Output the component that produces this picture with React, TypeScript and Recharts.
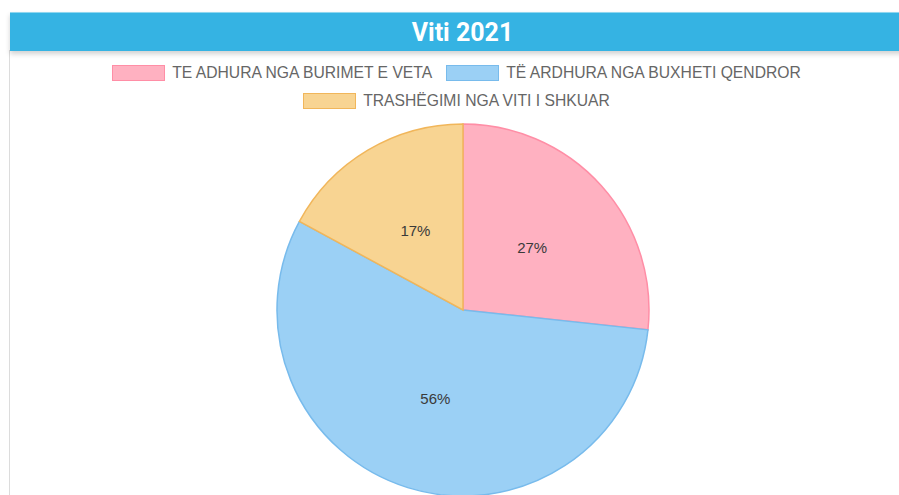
import { PieChart, Pie, Cell } from 'recharts'

const categories = ['TE ADHURA NGA BURIMET E VETA', 'TË ARDHURA NGA BUXHETI QENDROR', 'TRASHËGIMI NGA VITI I SHKUAR']
const shares = [26.7, 56.2, 17.1]
const FILLS = ['#ffb1c1', '#9bd0f5', '#f8d492']
const BORDERS = ['#ff8ea6', '#78bbec', '#f1b65a']

const data = categories.map((name, i) => ({ name, value: shares[i] }))

const RADIAN = Math.PI / 180
const FONT = 'Arial, "Liberation Sans", sans-serif'

function SliceLabel(props: any) {
  const { cx, cy, midAngle, outerRadius, percent } = props
  const r = outerRadius / 2
  const x = cx + r * Math.cos(-midAngle * RADIAN)
  const y = cy + r * Math.sin(-midAngle * RADIAN)
  return (
    <text x={x} y={y} textAnchor="middle" dominantBaseline="central"
      style={{ fontSize: 15, fill: '#3a3a3a', fontFamily: FONT }}>
      {Math.round(percent * 100)}%
    </text>
  )
}

function LegendBlock() {
  return (
    <div style={{
      position: 'absolute', left: 10, top: 65, width: 893,
      display: 'flex', flexWrap: 'wrap', justifyContent: 'center', rowGap: 12,
    }}>
      {categories.map((c, i) => (
        <div key={c} style={{ display: 'flex', alignItems: 'center', margin: '0 7px', height: 16 }}>
          <span style={{
            display: 'inline-block', width: 51, height: 14, background: FILLS[i],
            border: `1px solid ${BORDERS[i]}`, marginRight: 7,
          }} />
          <span style={{ fontSize: 15.7, color: '#666', fontFamily: FONT, whiteSpace: 'nowrap' }}>{c}</span>
        </div>
      ))}
    </div>
  )
}

export default function App() {
  return (
    <div style={{ position: 'absolute', left: 0, top: 0, width: 899, height: 495, overflow: 'hidden', background: '#fff' }}>
      <div style={{ position: 'absolute', left: 9, top: 50, width: 1, height: 445, background: '#dcdcdc' }} />
      <div style={{
        position: 'absolute', left: 10, top: 12, width: 905, height: 39, background: '#35b3e3',
        boxShadow: '0 3px 5px rgba(0,0,0,0.18)', color: '#fff', fontWeight: 700, fontSize: 25,
        fontFamily: 'Roboto, Arial, sans-serif', display: 'flex', alignItems: 'center', justifyContent: 'center',
        borderTop: '1px solid #8fd6ef', boxSizing: 'border-box',
      }}>
        Viti 2021
      </div>
      <LegendBlock />
      <div style={{ position: 'absolute', left: 0, top: 0 }}>
        <PieChart width={899} height={495} margin={{ top: 0, right: 0, bottom: 0, left: 0 }}>
          <Pie
            data={data}
            dataKey="value"
            nameKey="name"
            cx={463}
            cy={310}
            outerRadius={186}
            startAngle={90}
            endAngle={-270}
            label={SliceLabel}
            labelLine={false}
            isAnimationActive={false}
          >
            {data.map((_, i) => (
              <Cell key={i} fill={FILLS[i]} stroke={BORDERS[i]} strokeWidth={1.5} />
            ))}
          </Pie>
        </PieChart>
      </div>
    </div>
  )
}
